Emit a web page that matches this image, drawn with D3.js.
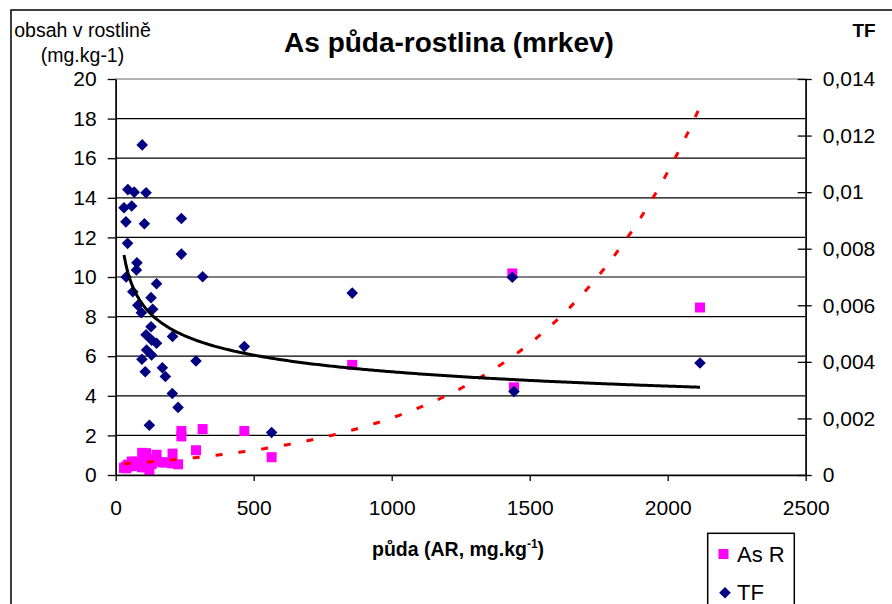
<!DOCTYPE html>
<html>
<head>
<meta charset="utf-8">
<script src="https://cdn.jsdelivr.net/npm/d3@7"></script>
<style>
  body { margin: 0; background: #fff; }
  svg { display: block; }
  text { font-family: Arial, "Liberation Sans", sans-serif; fill: #000; }
</style>
</head>
<body>
<svg id="chart" width="892" height="604"></svg>
<script>
// Soil arsenic (AR, mg/kg) for each carrot sample
const soilAs = [96, 44, 67, 110, 30, 58, 37, 104, 238, 43,
                238, 77, 75, 38, 315, 148, 62, 128, 80, 93,
                134, 128, 110, 130, 148, 206, 112, 130, 95, 107,
                169, 180, 205, 226, 122, 291, 466, 565, 857, 1437,
                1443, 2117];
// Arsenic content in the plant (mg/kg) — series "As R"
const plantAs = [1.12, 0.52, 0.67, 1.10, 0.36, 0.68, 0.42, 0.92, 2.22, 0.42,
                 1.95, 0.58, 0.54, 0.34, 2.32, 1.02, 0.45, 0.80, 0.48, 0.53,
                 0.79, 0.67, 0.55, 0.62, 0.69, 1.08, 0.50, 0.55, 0.39, 0.39,
                 0.64, 0.63, 0.59, 0.54, 0.21, 1.25, 2.22, 0.90, 5.56, 10.18,
                 4.43, 8.46];
// Transfer factor — series "TF" (secondary axis)
const tfValues = [0.01167, 0.01009, 0.01000, 0.00998, 0.00945, 0.00951, 0.00895, 0.00888, 0.00907, 0.00819,
                  0.00781, 0.00750, 0.00725, 0.00700, 0.00701, 0.00676, 0.00648, 0.00627, 0.00600, 0.00574,
                  0.00586, 0.00524, 0.00496, 0.00477, 0.00466, 0.00490, 0.00442, 0.00424, 0.00409, 0.00365,
                  0.00379, 0.00348, 0.00288, 0.00239, 0.00176, 0.00403, 0.00454, 0.00150, 0.00643, 0.00699,
                  0.00295, 0.00396];

const xTicks = [0, 500, 1000, 1500, 2000, 2500];
const yLeftTicks = [0, 2, 4, 6, 8, 10, 12, 14, 16, 18, 20];
const yRightTicks = [0, 0.002, 0.004, 0.006, 0.008, 0.010, 0.012, 0.014];
const yRightLabels = ["0", "0,002", "0,004", "0,006", "0,008", "0,01", "0,012", "0,014"];

const svg = d3.select("#chart");
const plot = { left: 115.7, right: 805.7, top: 79, bottom: 475 };

const x = d3.scaleLinear().domain([0, 2500]).range([plot.left, plot.right]);
const yL = d3.scaleLinear().domain([0, 20]).range([plot.bottom, plot.top]);
const yR = d3.scaleLinear().domain([0, 0.014]).range([plot.bottom, plot.top]);

// Trendline fits (least squares on log-transformed values)
function fitExp(xs, ys) {
  const lx = xs, ly = ys.map(Math.log);
  const mx = d3.mean(lx), my = d3.mean(ly);
  const b = d3.sum(lx, (v, i) => (v - mx) * (ly[i] - my)) / d3.sum(lx, v => (v - mx) ** 2);
  const a = Math.exp(my - b * mx);
  return t => a * Math.exp(b * t);
}
function fitPow(xs, ys) {
  const lx = xs.map(Math.log), ly = ys.map(Math.log);
  const mx = d3.mean(lx), my = d3.mean(ly);
  const b = d3.sum(lx, (v, i) => (v - mx) * (ly[i] - my)) / d3.sum(lx, v => (v - mx) ** 2);
  const a = Math.exp(my - b * mx);
  return t => a * Math.pow(t, b);
}

// Outer chart frame
svg.append("rect").attr("x", 11).attr("y", 10).attr("width", 900).attr("height", 700)
  .attr("fill", "#fff").attr("stroke", "#000").attr("stroke-width", 1.5);

// Horizontal gridlines (primary axis)
svg.append("g").selectAll("line").data(yLeftTicks.filter(d => d > 0 && d < 20)).join("line")
  .attr("x1", plot.left).attr("x2", plot.right)
  .attr("y1", d => yL(d)).attr("y2", d => yL(d))
  .attr("stroke", "#000").attr("stroke-width", 1.2);

// Plot area border
svg.append("rect").attr("x", plot.left).attr("y", plot.top)
  .attr("width", plot.right - plot.left).attr("height", plot.bottom - plot.top)
  .attr("fill", "none").attr("stroke", "#808080").attr("stroke-width", 1.2);

// As R: magenta squares
const sq = 10;
svg.append("g").selectAll("rect").data(soilAs).join("rect")
  .attr("x", (d) => x(d) - sq / 2)
  .attr("y", (d, i) => yL(plantAs[i]) - sq / 2)
  .attr("width", sq).attr("height", sq)
  .attr("fill", "#FF00FF");

// Exponential trendline for As R
const expFn = fitExp(soilAs, plantAs);
const xMin = d3.min(soilAs), xMax = d3.max(soilAs);
const xs = d3.range(0, 301).map(i => xMin + (xMax - xMin) * i / 300);
svg.append("path")
  .attr("d", d3.line().x(t => x(t)).y(t => yL(expFn(t)))(xs))
  .attr("fill", "none").attr("stroke", "#FF0000").attr("stroke-width", 3)
  .attr("stroke-dasharray", "7,16");

// TF: navy diamonds
const r = 5.8;
svg.append("g").selectAll("path").data(soilAs).join("path")
  .attr("d", `M0,${-r}L${r},0L0,${r}L${-r},0Z`)
  .attr("transform", (d, i) => `translate(${x(d)},${yR(tfValues[i])})`)
  .attr("fill", "#000080");

// Power trendline for TF
const powFn = fitPow(soilAs, tfValues);
svg.append("path")
  .attr("d", d3.line().x(t => x(t)).y(t => yR(powFn(t)))(xs))
  .attr("fill", "none").attr("stroke", "#000").attr("stroke-width", 3);

// Axes
const fs = "21px";
const axL = svg.append("g").attr("transform", `translate(${plot.left},0)`)
  .call(d3.axisLeft(yL).tickValues(yLeftTicks).tickFormat(d3.format("d"))
        .tickSizeInner(8).tickSizeOuter(0).tickPadding(11));
const axR = svg.append("g").attr("transform", `translate(${plot.right},0)`)
  .call(d3.axisRight(yR).tickValues(yRightTicks).tickFormat((d, i) => yRightLabels[i])
        .tickSizeInner(6).tickSizeOuter(0).tickPadding(11));
axR.selectAll(".tick line").attr("x1", -8);
const axB = svg.append("g").attr("transform", `translate(0,${plot.bottom})`)
  .call(d3.axisBottom(x).tickValues(xTicks).tickFormat(d3.format("d"))
        .tickSizeInner(6).tickSizeOuter(0).tickPadding(19));
[axL, axR, axB].forEach(g => {
  g.selectAll(".domain").attr("stroke", "#000").attr("stroke-width", 1.5);
  g.selectAll(".tick line").attr("stroke", "#000").attr("stroke-width", 1.3);
  g.selectAll("text").style("font-size", fs).style("font-family", "Arial, 'Liberation Sans', sans-serif").attr("fill", "#000");
});

// Titles
svg.append("text").attr("x", 449).attr("y", 52).attr("text-anchor", "middle")
  .style("font-size", "28px").style("font-weight", "bold").text("As půda-rostlina (mrkev)");
svg.append("text").attr("x", 82.5).attr("y", 37).attr("text-anchor", "middle")
  .style("font-size", "19.5px").text("obsah v rostlině");
svg.append("text").attr("x", 82.5).attr("y", 62).attr("text-anchor", "middle")
  .style("font-size", "19.5px").text("(mg.kg-1)");
svg.append("text").attr("x", 864).attr("y", 37).attr("text-anchor", "middle")
  .style("font-size", "19px").style("font-weight", "bold").text("TF");
const xt = svg.append("text").attr("x", 372).attr("y", 556)
  .style("font-size", "19.5px").style("font-weight", "bold");
xt.append("tspan").text("půda (AR, mg.kg");
xt.append("tspan").attr("dy", -8).style("font-size", "12px").text("-1");
xt.append("tspan").attr("dy", 8).text(")");

// Legend
const lg = svg.append("g");
lg.append("rect").attr("x", 707.7).attr("y", 533.3).attr("width", 86.6).attr("height", 100)
  .attr("fill", "#fff").attr("stroke", "#000").attr("stroke-width", 1.5);
lg.append("rect").attr("x", 718.5).attr("y", 549).attr("width", 10).attr("height", 10).attr("fill", "#FF00FF");
lg.append("text").attr("x", 737).attr("y", 562).style("font-size", "22px").text("As R");
lg.append("path").attr("d", `M0,${-r}L${r},0L0,${r}L${-r},0Z`)
  .attr("transform", "translate(725,592.7)").attr("fill", "#000080");
lg.append("text").attr("x", 737).attr("y", 600).style("font-size", "22px").text("TF");
</script>
</body>
</html>
